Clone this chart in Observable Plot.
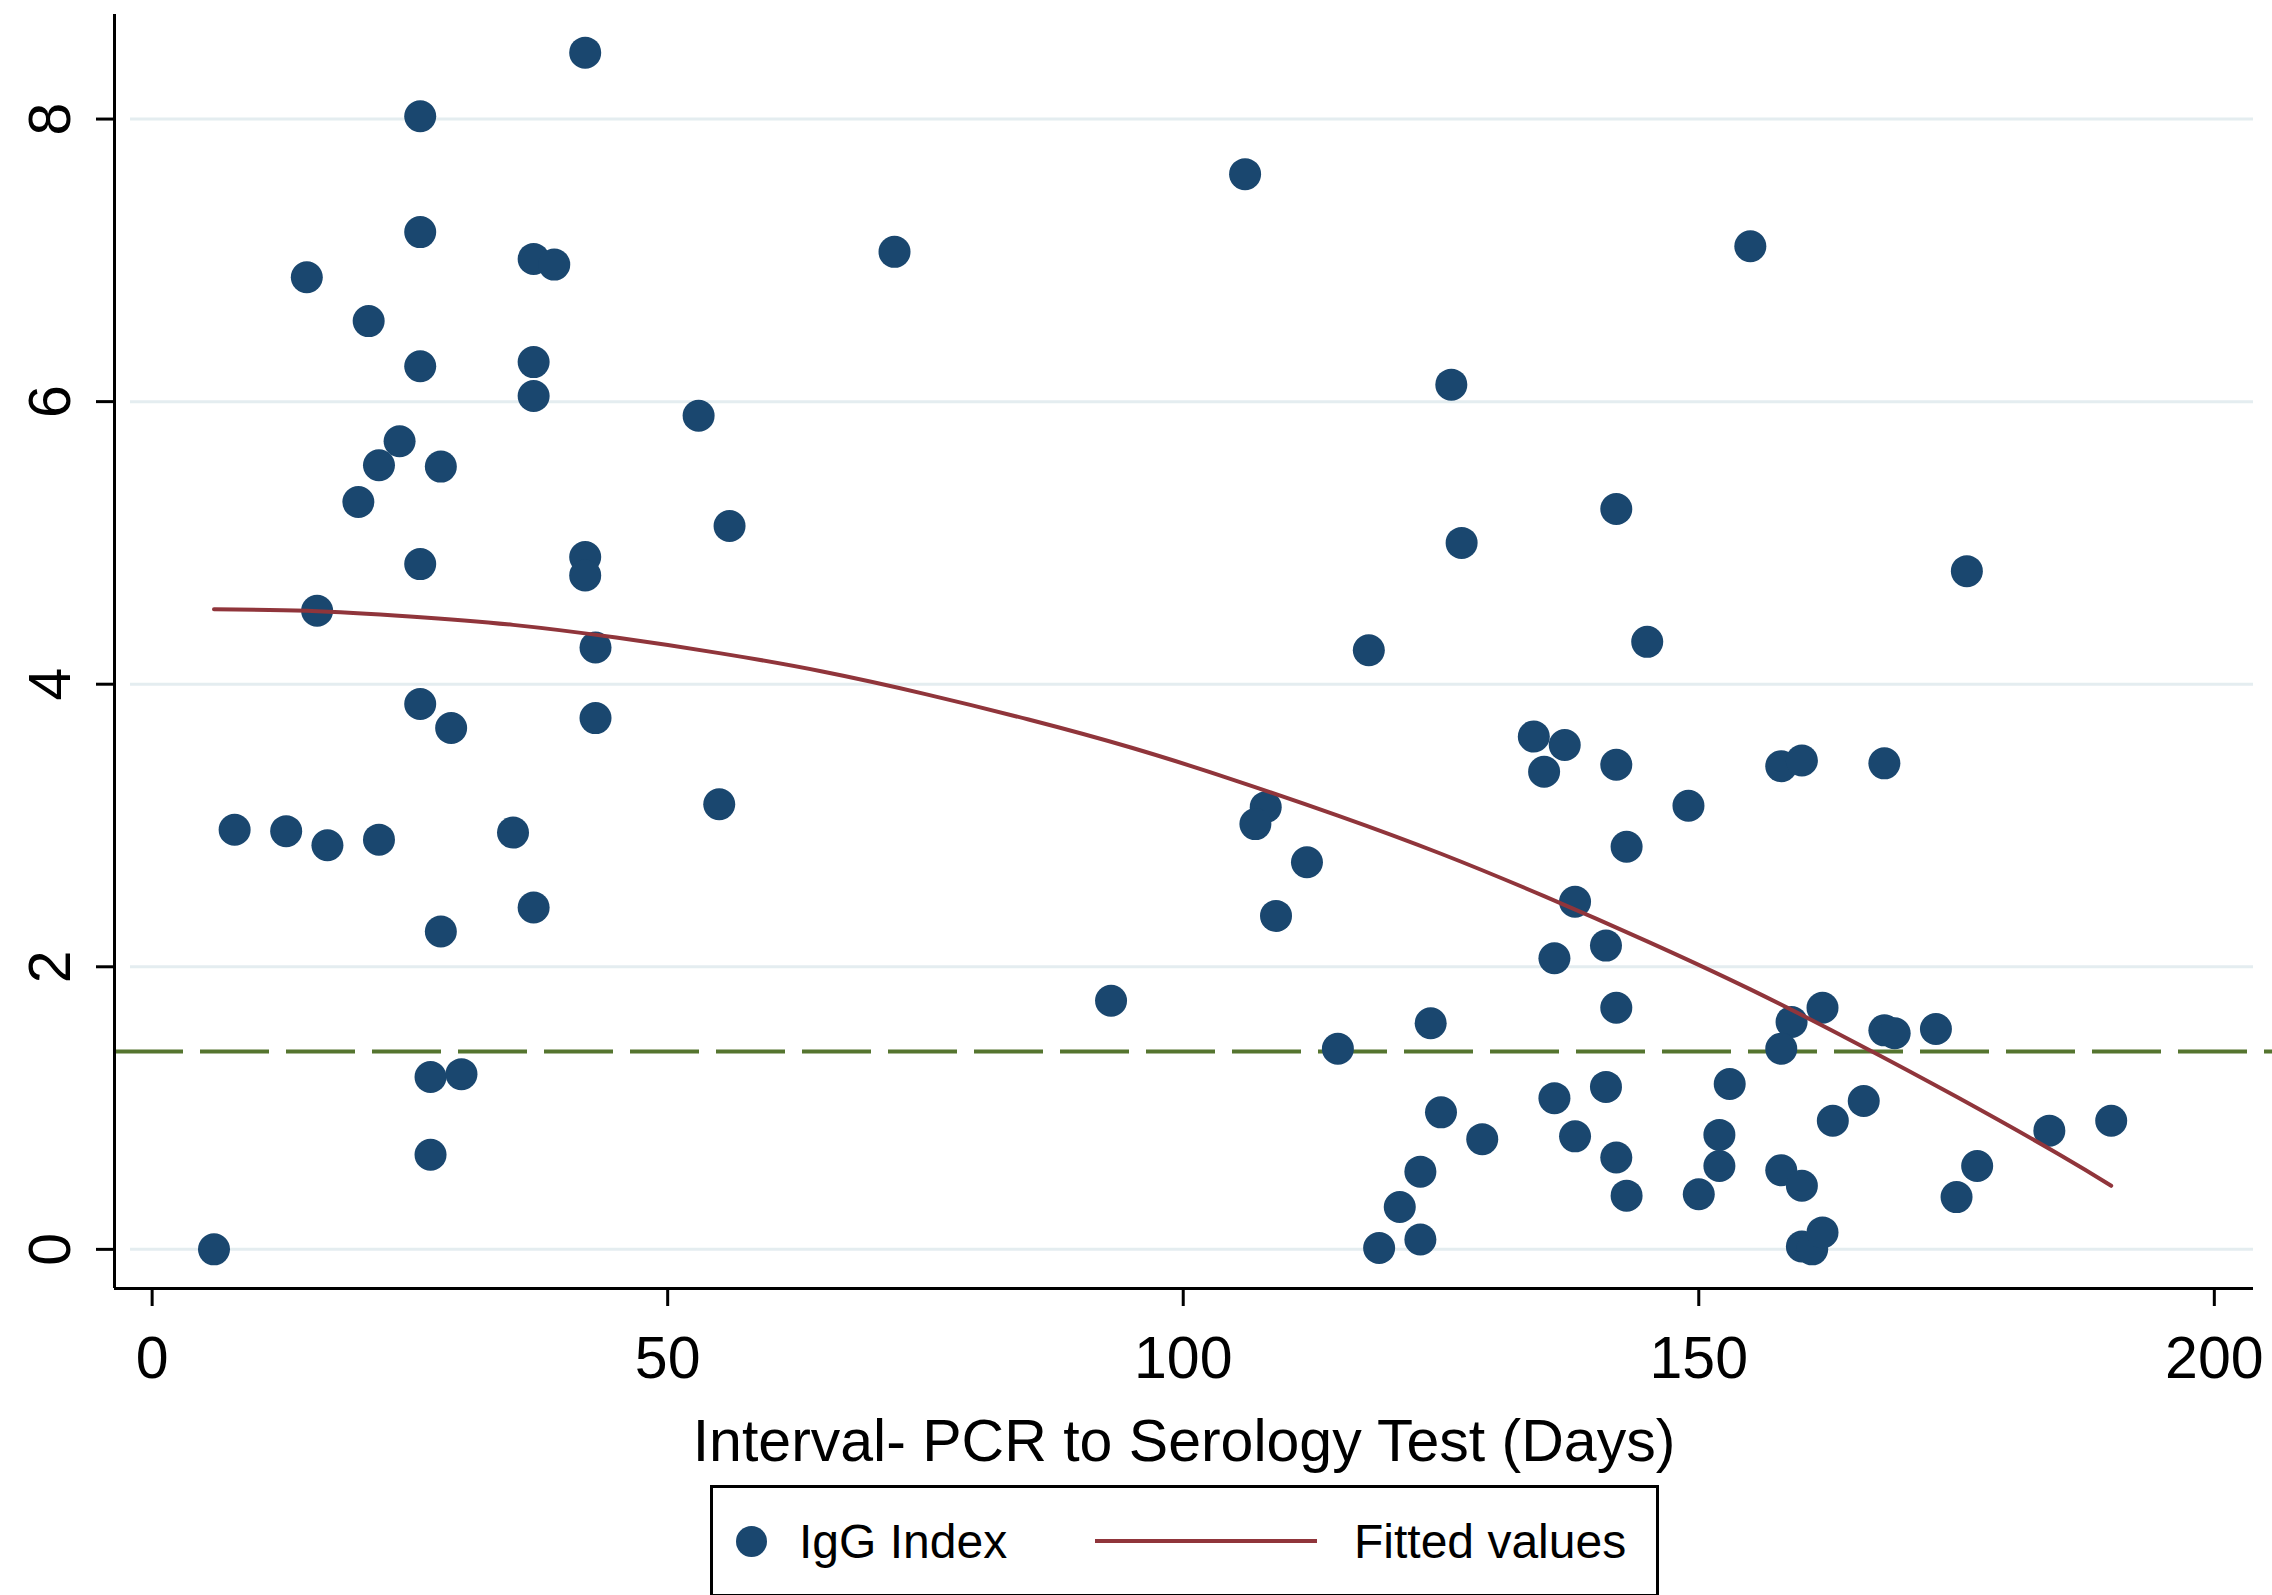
<!DOCTYPE html>
<html>
<head>
<meta charset="utf-8">
<script src="https://cdn.jsdelivr.net/npm/d3@7"></script>
<script src="https://cdn.jsdelivr.net/npm/@observablehq/plot@0.6"></script>
<style>
  html, body { margin: 0; padding: 0; background: #fff; }
  #wrap { position: relative; width: 2272px; height: 1595px; background: #fff; font-family: "Liberation Sans", Arial, sans-serif; }
  #legend { position: absolute; left: 710px; top: 1485px; width: 943px; height: 106px; border: 3px solid #000; box-sizing: content-box; }
  #legend .item { position: absolute; top: 0; height: 106px; display: flex; align-items: center; font-size: 48px; color: #000; }
  #legend .dot { width: 31px; height: 31px; border-radius: 50%; background: #1a476f; display: inline-block; }
  #legend .line { width: 222px; height: 4px; background: #90353b; display: inline-block; }
</style>
</head>
<body>
<div id="wrap">
  <div id="chart"></div>
  <div id="legend"></div>
</div>
<script>
// ---- data ----
const igDays = [6, 8, 13, 17, 22, 15, 16, 21, 20, 22, 24, 26, 26, 26, 26, 26, 28, 29, 28, 27,
  30, 27, 35, 37, 39, 37, 37, 37, 42, 42, 42, 43, 43, 53, 56, 55, 72, 93, 106, 108,
  107, 112, 109, 115, 118, 119, 121, 123, 123, 124, 125, 126, 127, 129, 134, 135, 137, 136, 136, 138,
  138, 141, 141, 142, 142, 142, 142, 143, 143, 145, 149, 150, 152, 152, 153, 155, 158, 160, 159, 158,
  158, 160, 160, 161, 162, 162, 163, 166, 168, 168, 169, 173, 175, 176, 177, 184, 190];
const igIndex = [0.00, 2.97, 2.96, 2.86, 2.90, 6.88, 4.52, 6.57, 5.29, 5.55, 5.72, 8.02, 7.20, 6.25, 4.85, 3.86, 5.54, 3.69, 2.25, 1.22,
  1.24, 0.67, 2.95, 7.01, 6.97, 6.28, 6.04, 2.42, 8.47, 4.90, 4.77, 4.26, 3.76, 5.90, 5.12, 3.15, 7.06, 1.76, 7.61, 3.13,
  3.01, 2.74, 2.36, 1.42, 4.24, 0.01, 0.30, 0.55, 0.07, 1.60, 0.97, 6.12, 5.00, 0.78, 3.63, 3.38, 3.57, 2.06, 1.07, 2.46,
  0.80, 2.15, 1.15, 5.24, 3.43, 1.71, 0.65, 2.85, 0.38, 4.30, 3.14, 0.39, 0.81, 0.59, 1.17, 7.10, 3.42, 3.46, 1.61, 1.42,
  0.56, 0.45, 0.02, 0.00, 0.12, 1.71, 0.91, 1.05, 3.44, 1.55, 1.53, 1.56, 0.37, 4.80, 0.59, 0.84, 0.91];

const fitDays   = [6, 15, 25, 35, 45, 55, 65, 75, 85, 95, 105, 115, 125, 135, 145, 155, 165, 175, 185, 190];
const fitValues = [4.53, 4.52, 4.48, 4.42, 4.33, 4.22, 4.09, 3.93, 3.75, 3.55, 3.32, 3.07, 2.80, 2.50, 2.18, 1.84, 1.47, 1.08, 0.67, 0.45];

const cutoff = [1.4];
const xTicks = [0, 50, 100, 150, 200];
const yTicks = [0, 2, 4, 6, 8];
const xTitle = "Interval- PCR to Serology Test (Days)";
const legendLabels = ["IgG Index", "Fitted values"];

// ---- build ----
const xDomain = [-3.65, 203.8];
const yDomain = [-0.277, 8.74];
const points = igDays.map((d, i) => ({days: d, igg: igIndex[i]}));
const fit = fitDays.map((d, i) => ({days: d, val: fitValues[i]}));

const chart = Plot.plot({
  width: 2272,
  height: 1480,
  marginLeft: 114,
  marginRight: 19,
  marginTop: 14,
  marginBottom: 192,
  style: {fontFamily: "'Liberation Sans', Arial, sans-serif", background: "#fff", color: "#000"},
  x: {domain: xDomain},
  y: {domain: yDomain},
  marks: [
    Plot.ruleY(yTicks, {x1: -2.1, x2: xDomain[1], stroke: "#e4edf0", strokeWidth: 3}),
    Plot.ruleY(cutoff, {x1: xDomain[0], x2: 206.5, stroke: "#55752f", strokeWidth: 4, strokeDasharray: "69,17"}),
    Plot.dot(points, {x: "days", y: "igg", r: 16, fill: "#1a476f", stroke: "none"}),
    Plot.line(fit, {x: "days", y: "val", stroke: "#90353b", strokeWidth: 4, curve: "natural"}),
    Plot.ruleX([xDomain[0]], {stroke: "#000", strokeWidth: 3}),
    Plot.ruleY([yDomain[0]], {stroke: "#000", strokeWidth: 3}),
    Plot.axisX(xTicks, {tickSize: 18, tickPadding: 30, fontSize: 59, strokeWidth: 3,
      label: xTitle, labelAnchor: "center", labelArrow: "none", labelOffset: 172}),
    Plot.axisY(yTicks, {tickSize: 18, strokeWidth: 3, tickFormat: () => "", label: null}),
    Plot.text(yTicks, {x: xDomain[0], y: d => d, text: d => String(d), rotate: -90, dx: -63,
      fontSize: 59, textAnchor: "middle", lineAnchor: "middle", fill: "#000"})
  ]
});
document.getElementById("chart").appendChild(chart);

// ---- legend ----
const legend = document.getElementById("legend");
legend.innerHTML = `
  <div class="item" style="left:23px"><span class="dot"></span></div>
  <div class="item" style="left:86px">${legendLabels[0]}</div>
  <div class="item" style="left:382px"><span class="line"></span></div>
  <div class="item" style="left:641px">${legendLabels[1]}</div>`;
</script>
</body>
</html>
